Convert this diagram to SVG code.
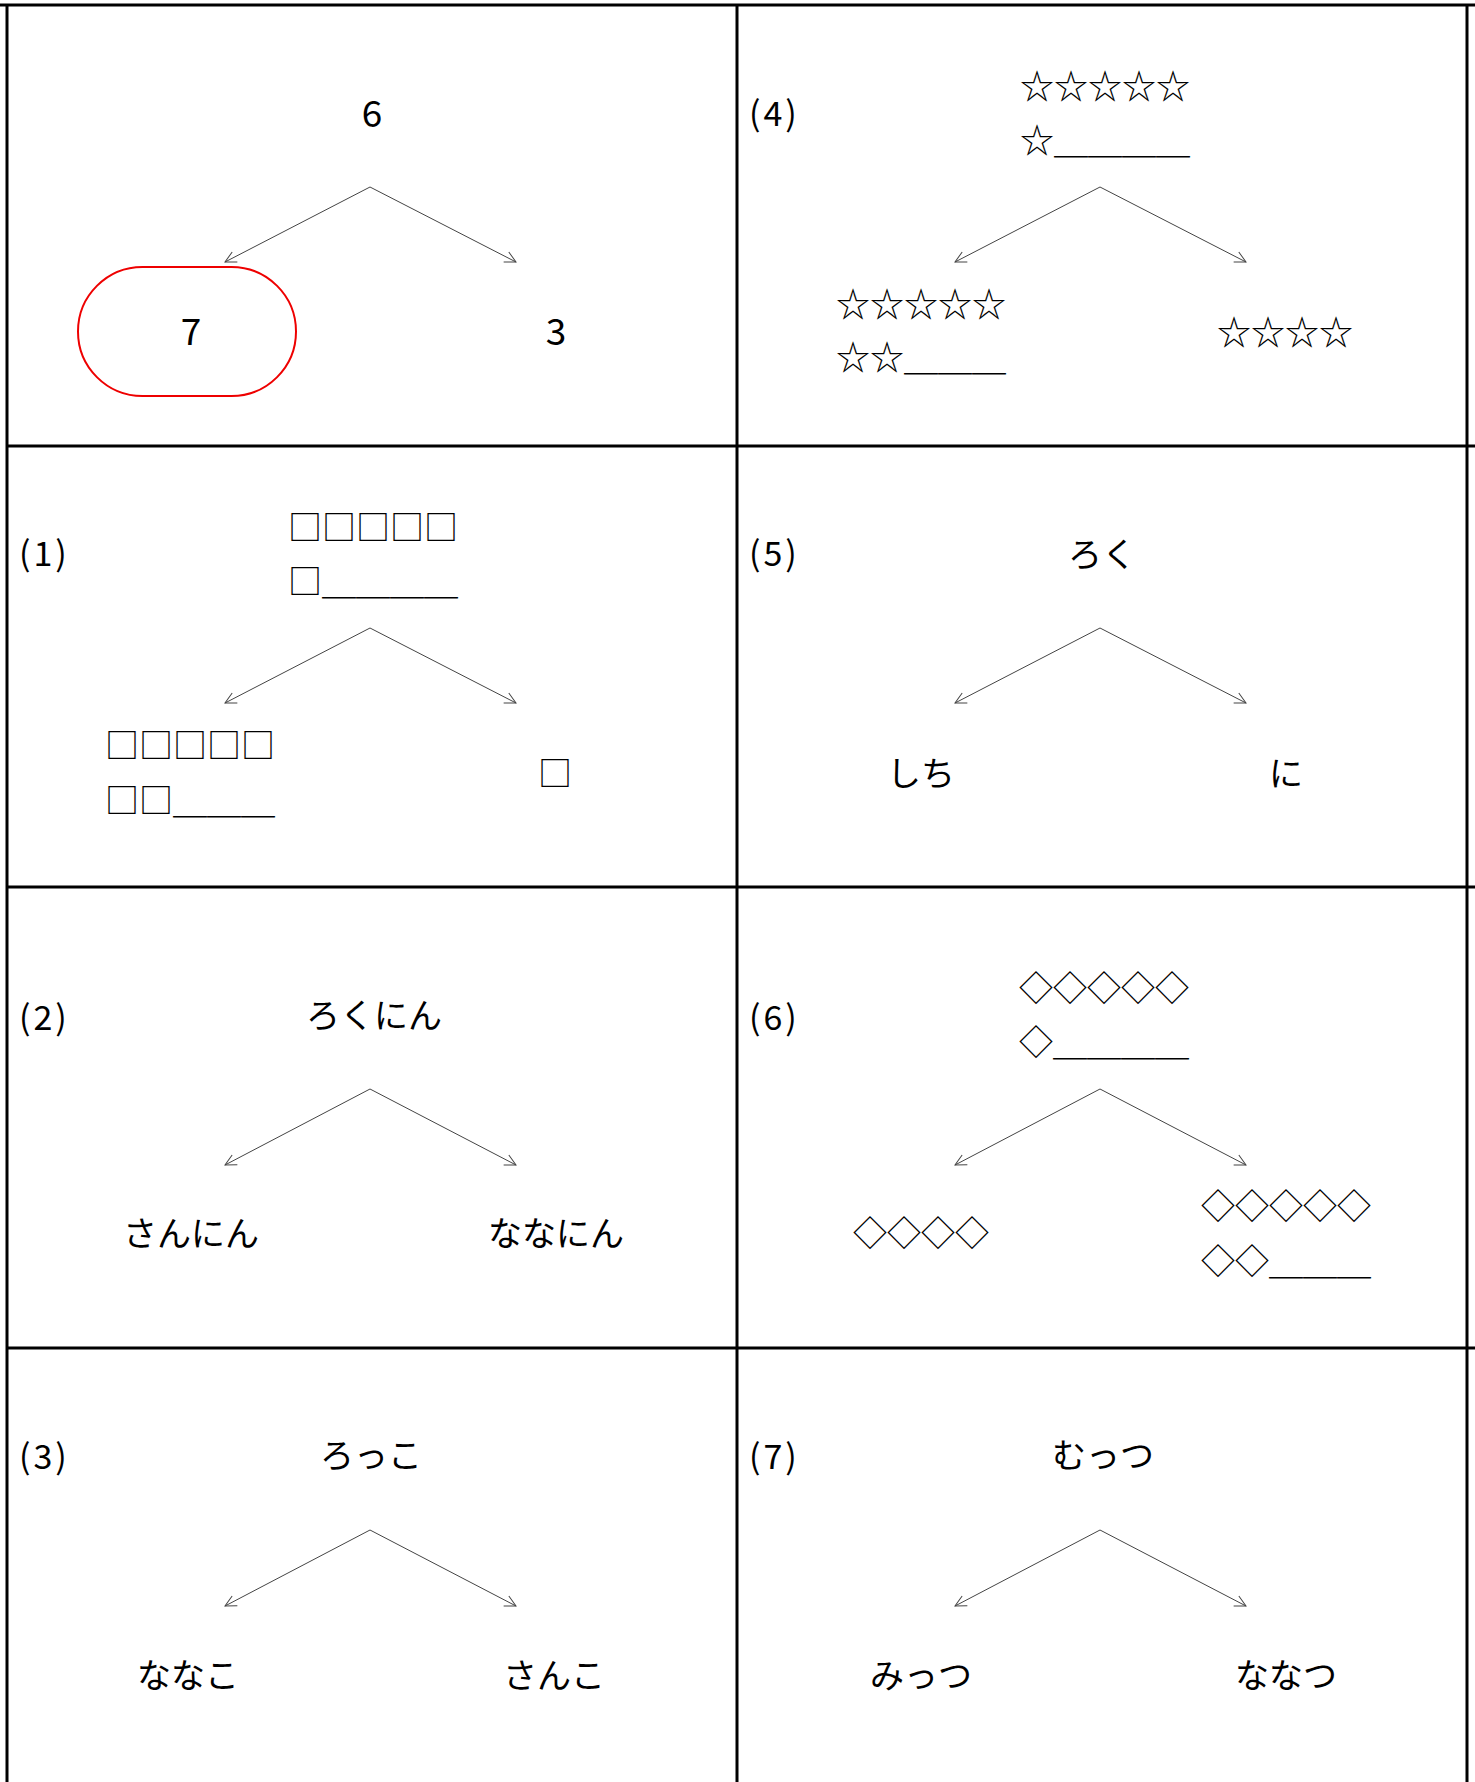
<svg xmlns="http://www.w3.org/2000/svg" width="1475" height="1782" viewBox="0 0 1475 1782">
<style>
text{font-family:"Noto Sans CJK JP","Noto Sans",sans-serif;fill:#000}
.lbl{font-size:34px;letter-spacing:3px}
.num{font-size:37px;text-anchor:middle}
.kana{font-size:34px;text-anchor:middle}
.sym{font-size:34px}
.symc{font-size:34px;text-anchor:middle}
.grid{stroke:#000;stroke-width:3;fill:none}
.arr{stroke:#444;stroke-width:1;fill:none;marker-end:url(#ah)}
</style>
<defs>
<marker id="ah" markerUnits="userSpaceOnUse" markerWidth="14" markerHeight="14" viewBox="-12 -7 14 14" refX="0" refY="0" orient="auto">
<path d="M-11,-5.6 L0,0 L-11,5.6" fill="none" stroke="#444" stroke-width="1"/>
</marker>
</defs>
<rect x="0" y="0" width="1475" height="1782" fill="#fff"/>
<g id="grid">
<line class="grid" x1="0" y1="5" x2="1475" y2="5"/>
<line class="grid" x1="6" y1="446" x2="1475" y2="446"/>
<line class="grid" x1="6" y1="887" x2="1475" y2="887"/>
<line class="grid" x1="6" y1="1348" x2="1475" y2="1348"/>
<line class="grid" x1="7" y1="4" x2="7" y2="1782"/>
<line class="grid" x1="737" y1="4" x2="737" y2="1782"/>
<line class="grid" x1="1467" y1="4" x2="1467" y2="1782"/>
</g>
<g id="connectors">
<path class="arr" d="M370,187 L225,262"/>
<path class="arr" d="M370,187 L516,262"/>
<path class="arr" d="M1100,187 L955,262"/>
<path class="arr" d="M1100,187 L1246,262"/>
<path class="arr" d="M370,628 L225,703"/>
<path class="arr" d="M370,628 L516,703"/>
<path class="arr" d="M1100,628 L955,703"/>
<path class="arr" d="M1100,628 L1246,703"/>
<path class="arr" d="M370,1089 L225,1165"/>
<path class="arr" d="M370,1089 L516,1165"/>
<path class="arr" d="M1100,1089 L955,1165"/>
<path class="arr" d="M1100,1089 L1246,1165"/>
<path class="arr" d="M370,1530 L225,1606"/>
<path class="arr" d="M370,1530 L516,1606"/>
<path class="arr" d="M1100,1530 L955,1606"/>
<path class="arr" d="M1100,1530 L1246,1606"/>
</g>
<g id="example">
<text class="num" x="372" y="127">6</text>
<rect x="78" y="267" width="218" height="129" rx="64.5" ry="64.5" fill="none" stroke="#e00" stroke-width="2"/>
<text class="num" x="191" y="345">7</text>
<text class="num" x="556" y="345">3</text>
</g>
<g id="q4">
<text class="lbl" x="749" y="126">(4)</text>
<text class="sym" x="1020" y="99">☆☆☆☆☆</text>
<text class="sym" x="1020" y="153">☆＿＿＿＿</text>
<text class="sym" x="836" y="317">☆☆☆☆☆</text>
<text class="sym" x="836" y="370">☆☆＿＿＿</text>
<text class="symc" x="1285" y="345">☆☆☆☆</text>
</g>
<g id="q1">
<text class="lbl" x="19" y="566">(1)</text>
<text class="sym" x="288" y="540">□□□□□</text>
<text class="sym" x="288" y="594">□＿＿＿＿</text>
<text class="sym" x="105" y="758">□□□□□</text>
<text class="sym" x="105" y="813">□□＿＿＿</text>
<text class="symc" x="555" y="786">□</text>
</g>
<g id="q5">
<text class="lbl" x="749" y="566">(5)</text>
<text class="kana" x="1102" y="567">ろく</text>
<text class="kana" x="921" y="786">しち</text>
<text class="kana" x="1286" y="786">に</text>
</g>
<g id="q2">
<text class="lbl" x="19" y="1030">(2)</text>
<text class="kana" x="374" y="1028">ろくにん</text>
<text class="kana" x="191" y="1246">さんにん</text>
<text class="kana" x="556" y="1246">ななにん</text>
</g>
<g id="q6">
<text class="lbl" x="749" y="1030">(6)</text>
<text class="sym" x="1019" y="1001">◇◇◇◇◇</text>
<text class="sym" x="1019" y="1055">◇＿＿＿＿</text>
<text class="symc" x="921" y="1246">◇◇◇◇</text>
<text class="sym" x="1201" y="1219">◇◇◇◇◇</text>
<text class="sym" x="1201" y="1274">◇◇＿＿＿</text>
</g>
<g id="q3">
<text class="lbl" x="19" y="1469">(3)</text>
<text class="kana" x="371" y="1468">ろっこ</text>
<text class="kana" x="188" y="1688">ななこ</text>
<text class="kana" x="554" y="1688">さんこ</text>
</g>
<g id="q7">
<text class="lbl" x="749" y="1469">(7)</text>
<text class="kana" x="1103" y="1468">むっつ</text>
<text class="kana" x="921" y="1688">みっつ</text>
<text class="kana" x="1286" y="1688">ななつ</text>
</g>
</svg>
